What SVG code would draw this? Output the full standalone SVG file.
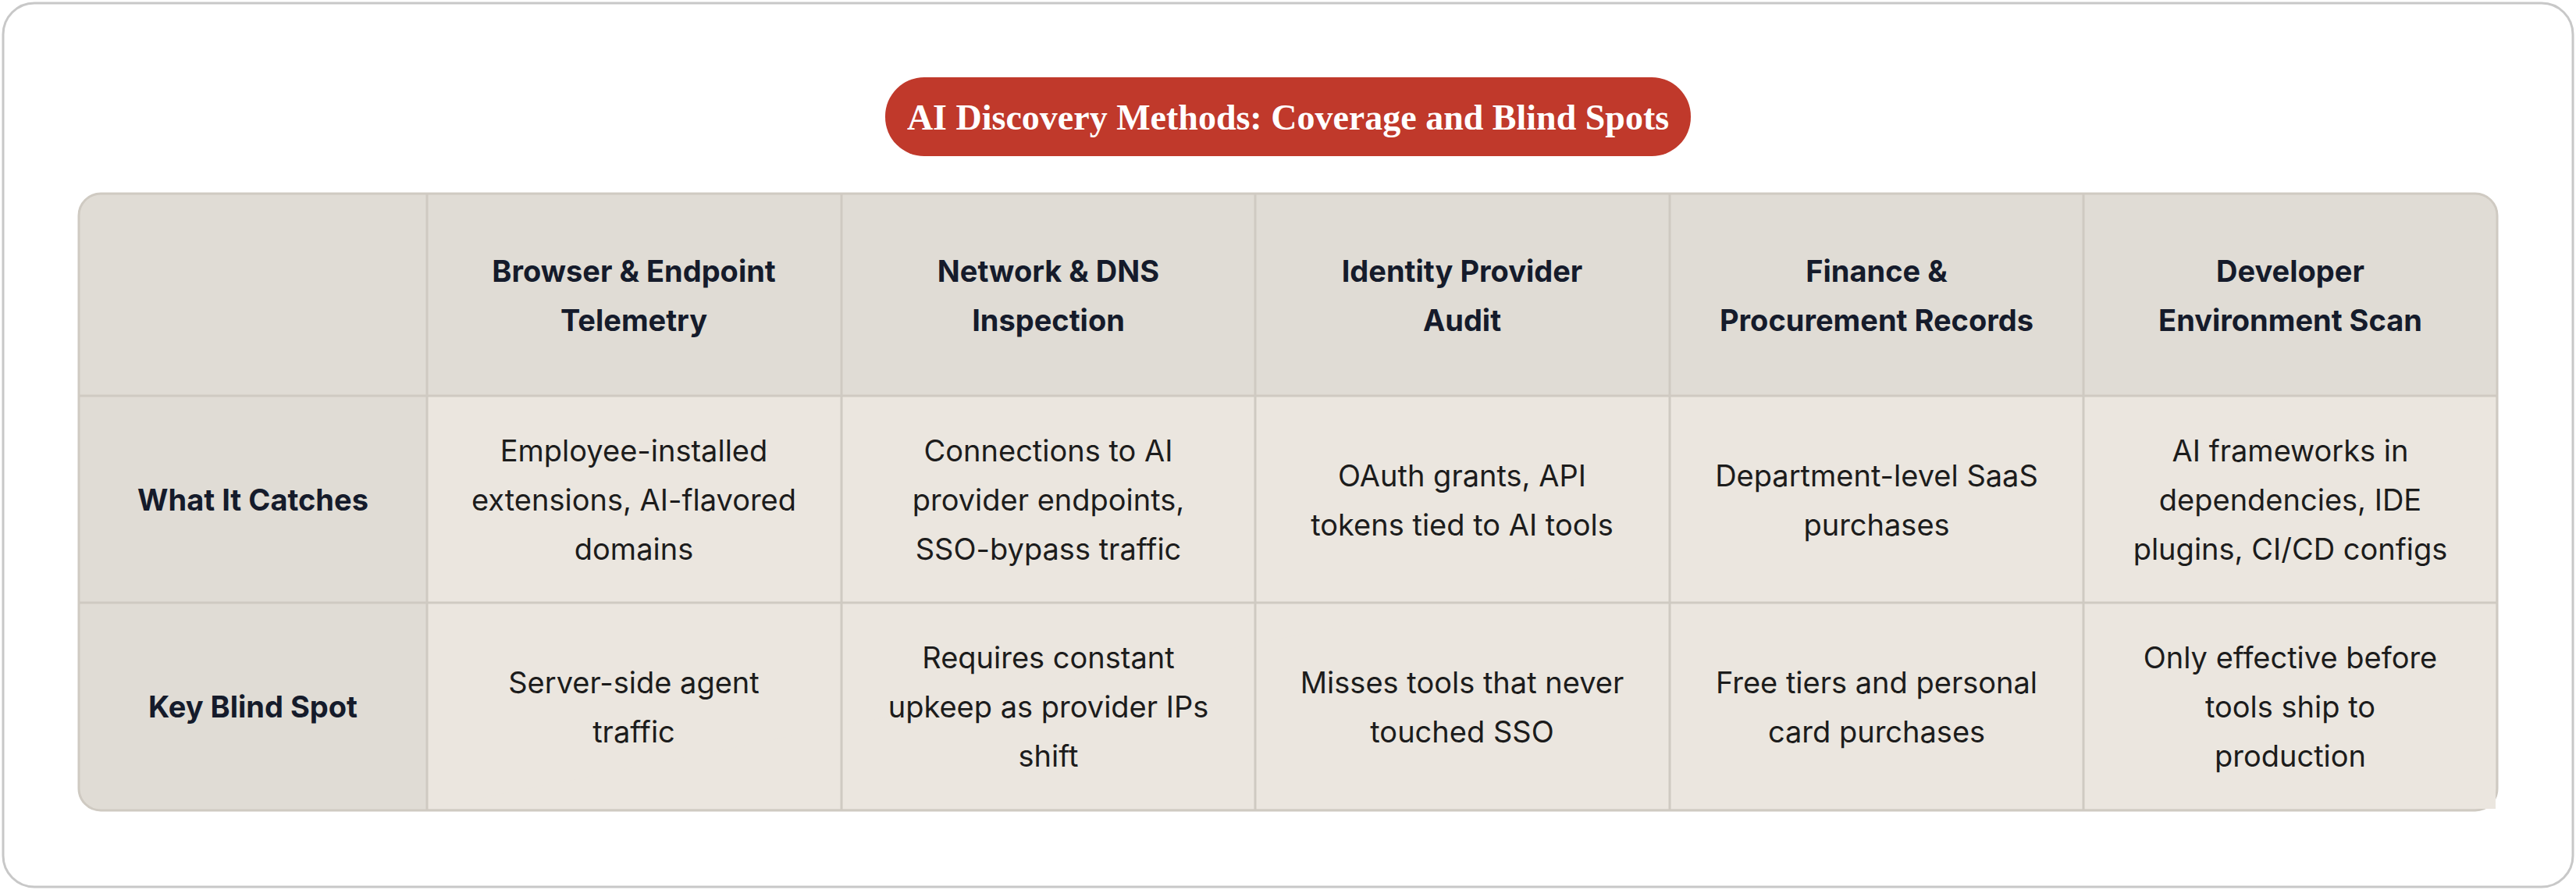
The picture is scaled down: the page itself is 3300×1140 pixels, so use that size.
<svg xmlns="http://www.w3.org/2000/svg" width="3300" height="1140" viewBox="0 0 3300 1140">
<style>
.h{font-family:Inter,"Liberation Sans",sans-serif;font-weight:700;font-size:38px;fill:#151b2b;text-anchor:middle;dominant-baseline:central}
.b{font-family:Inter,"Liberation Sans",sans-serif;font-weight:400;font-size:38px;fill:#1c1c1c;text-anchor:middle;dominant-baseline:central}
.hd{fill:#e0dcd5}
.bd{fill:#ebe6df}
.ln{stroke:#cfcac2;stroke-width:3}
</style>
<rect x="4" y="4" width="3292" height="1132" rx="40" fill="#fff" stroke="#c8c8c8" stroke-width="3"/>
<g id="title">
<rect x="1134" y="99" width="1032" height="101" rx="50" fill="#c0392b"/>
<text x="1650" y="150" font-family="'Liberation Serif',serif" font-weight="700" font-size="46" fill="#fff" text-anchor="middle" dominant-baseline="central">AI Discovery Methods: Coverage and Blind Spots</text>
</g>
<g id="table">
<rect x="101" y="248" width="3098" height="790" rx="28" class="hd" stroke="#cfcac2" stroke-width="3"/>
<rect x="547" y="507" width="2650" height="529" class="bd"/>
<path d="M3197 507 V1010 Q3197 1036 3171 1036 H547" fill="#ebe6df"/>
<g class="ln">
<line x1="101" y1="507" x2="3199" y2="507"/>
<line x1="101" y1="772" x2="3199" y2="772"/>
<line x1="547" y1="248" x2="547" y2="1038"/>
<line x1="1078" y1="248" x2="1078" y2="1038"/>
<line x1="1608" y1="248" x2="1608" y2="1038"/>
<line x1="2139" y1="248" x2="2139" y2="1038"/>
<line x1="2669" y1="248" x2="2669" y2="1038"/>
</g>
</g>
<g id="header">
<text class="h" x="812" y="347">Browser &amp; Endpoint</text><text class="h" x="812" y="410">Telemetry</text>
<text class="h" x="1343" y="347">Network &amp; DNS</text><text class="h" x="1343" y="410">Inspection</text>
<text class="h" x="1873" y="347">Identity Provider</text><text class="h" x="1873" y="410">Audit</text>
<text class="h" x="2404" y="347">Finance &amp;</text><text class="h" x="2404" y="410">Procurement Records</text>
<text class="h" x="2934" y="347">Developer</text><text class="h" x="2934" y="410">Environment Scan</text>
</g>
<g id="row-catches">
<text class="h" x="324" y="640">What It Catches</text>
<text class="b" x="812" y="577">Employee-installed</text><text class="b" x="812" y="640">extensions, AI-flavored</text><text class="b" x="812" y="703">domains</text>
<text class="b" x="1343" y="577">Connections to AI</text><text class="b" x="1343" y="640">provider endpoints,</text><text class="b" x="1343" y="703">SSO-bypass traffic</text>
<text class="b" x="1873" y="609">OAuth grants, API</text><text class="b" x="1873" y="672">tokens tied to AI tools</text>
<text class="b" x="2404" y="609">Department-level SaaS</text><text class="b" x="2404" y="672">purchases</text>
<text class="b" x="2934" y="577">AI frameworks in</text><text class="b" x="2934" y="640">dependencies, IDE</text><text class="b" x="2934" y="703">plugins, CI/CD configs</text>
</g>
<g id="row-blind">
<text class="h" x="324" y="905">Key Blind Spot</text>
<text class="b" x="812" y="874">Server-side agent</text><text class="b" x="812" y="937">traffic</text>
<text class="b" x="1343" y="842">Requires constant</text><text class="b" x="1343" y="905">upkeep as provider IPs</text><text class="b" x="1343" y="968">shift</text>
<text class="b" x="1873" y="874">Misses tools that never</text><text class="b" x="1873" y="937">touched SSO</text>
<text class="b" x="2404" y="874">Free tiers and personal</text><text class="b" x="2404" y="937">card purchases</text>
<text class="b" x="2934" y="842">Only effective before</text><text class="b" x="2934" y="905">tools ship to</text><text class="b" x="2934" y="968">production</text>
</g>
</svg>
